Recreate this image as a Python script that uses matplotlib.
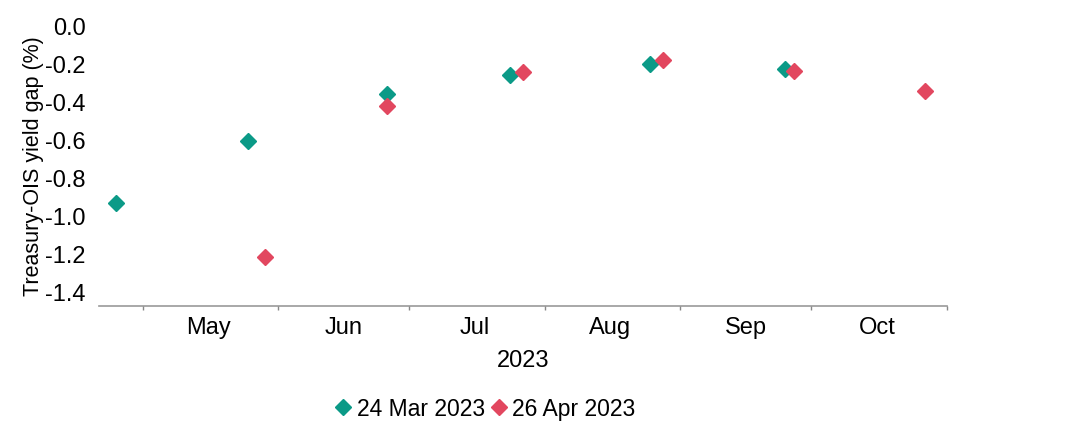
import numpy as np
import pandas as pd
import matplotlib
matplotlib.use("Agg")
import matplotlib.pyplot as plt
import matplotlib.dates as mdates

plt.rcParams['font.family'] = ['Liberation Sans', 'DejaVu Sans']

# values
mar_dates = ['2023-04-25', '2023-05-25', '2023-06-26', '2023-07-24', '2023-08-25', '2023-09-25']
mar_gap = [-0.93, -0.60, -0.355, -0.255, -0.195, -0.225]
apr_dates = ['2023-05-29', '2023-06-26', '2023-07-27', '2023-08-28', '2023-09-27', '2023-10-27']
apr_gap = [-1.21, -0.415, -0.24, -0.175, -0.235, -0.34]
yticks = [0.0, -0.2, -0.4, -0.6, -0.8, -1.0, -1.2, -1.4]

green = '#0b9a87'
red = '#e2475f'

fig = plt.figure(figsize=(10.88, 4.40), dpi=100)
ax = fig.add_axes([99 / 1088, 1 - 306 / 440, (947 - 99) / 1088, (306 - 26.7) / 440])

ax.plot(pd.to_datetime(mar_dates), mar_gap, linestyle='none', marker='D', ms=8,
        color=green, label='24 Mar 2023')
ax.plot(pd.to_datetime(apr_dates), apr_gap, linestyle='none', marker='D', ms=8,
        color=red, label='26 Apr 2023')

ax.set_xlim(pd.Timestamp('2023-04-21'), pd.Timestamp('2023-11-01'))
ax.set_ylim(-1.47, 0.0)
ax.set_yticks(yticks)
ax.set_yticklabels(['%.1f' % v for v in yticks])
ax.tick_params(axis='y', length=0, labelsize=17, pad=9.5)

ax.xaxis.set_major_locator(mdates.MonthLocator())
ax.xaxis.set_major_formatter(plt.NullFormatter())
ax.xaxis.set_minor_locator(mdates.MonthLocator(bymonthday=16))
ax.xaxis.set_minor_formatter(mdates.DateFormatter('%b'))
ax.tick_params(axis='x', which='major', length=3, color='#888888', width=1)
ax.tick_params(axis='x', which='minor', length=0, labelsize=17, pad=8)

for s in ['top', 'right', 'left']:
    ax.spines[s].set_visible(False)
ax.spines['bottom'].set_color('#999999')
ax.spines['bottom'].set_linewidth(1.2)
ax.spines['bottom'].set_zorder(0)

ax.set_xlabel('2023', fontsize=17, labelpad=8)
ax.set_ylabel('Treasury-OIS yield gap (%)', fontsize=15.5, labelpad=1)

ax.legend(loc='center', bbox_to_anchor=(486 / 1088, 1 - 409 / 440), bbox_transform=fig.transFigure,
          ncol=2, frameon=False, fontsize=16.5, handlelength=0.6, handletextpad=0.3,
          columnspacing=0.3, markerscale=1.0)

fig.savefig('out.png', dpi=100)
